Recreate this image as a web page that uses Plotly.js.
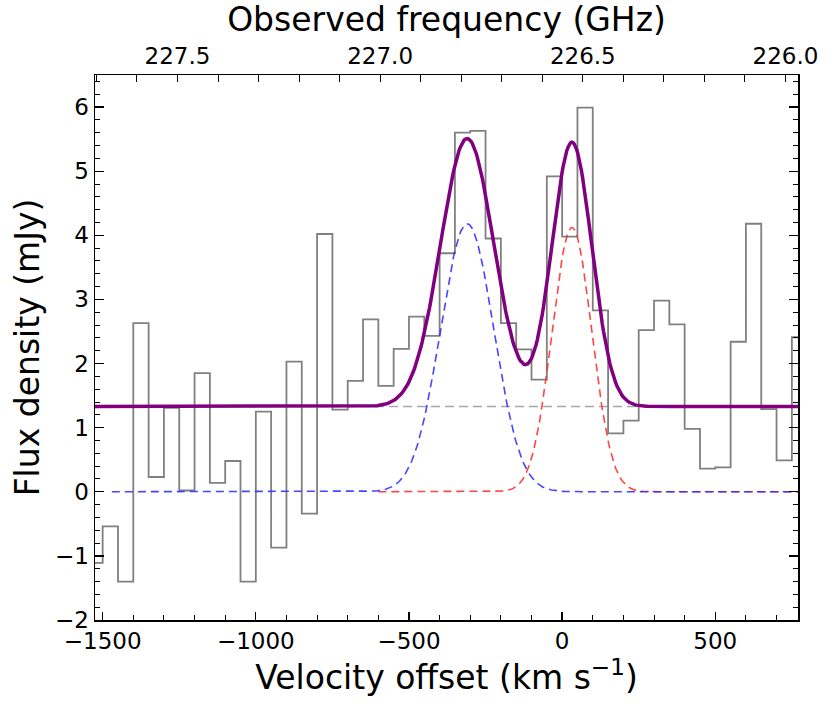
<!DOCTYPE html>
<html>
<head>
<meta charset="utf-8">
<script src="https://cdn.plot.ly/plotly-3.0.1.min.js"></script>
<style>html,body{margin:0;padding:0;background:#fff;}#chart{width:831px;height:707px;}</style>
</head>
<body>
<div id="chart"></div>
<script>
// Channel centres (km/s) and measured flux density (mJy)
const velocity = [-1525,-1475,-1425,-1375,-1325,-1275,-1225,-1175,-1125,-1075,-1025,-975,-925,-875,-825,-775,-725,-675,-625,-575,-525,-475,-425,-375,-325,-275,-225,-175,-125,-75,-25,25,75,125,175,225,275,325,375,425,475,525,575,625,675,725,775];
const flux = [-1.11,-0.54,-1.40,2.63,0.23,1.31,0.02,1.85,0.14,0.48,-1.40,1.25,-0.87,2.03,-0.34,4.02,1.28,1.73,2.69,1.65,2.23,2.73,2.43,3.72,5.60,5.63,3.95,2.63,2.22,1.75,4.92,3.98,5.99,2.83,0.91,1.11,2.52,2.98,2.61,0.98,0.36,0.38,2.34,4.18,1.29,0.49,2.41];

// Fit parameters: continuum + two Gaussian components
const continuumLevel = 1.33;
const compCentre = [-310, 32];      // km/s (blue, red)
const compAmplitude = [4.18, 4.12]; // mJy
const compSigma = [87, 65];         // km/s
const compStart = [-1470, -600];    // km/s where each component curve starts

// Axis ranges and ticks
const velRange = [-1525, 770];
const fluxRange = [-2, 6.5];
const velTicks = [-1500, -1000, -500, 0, 500];
const restFreq = 226.551; // GHz, frequency at zero velocity
const freqTicks = [227.5, 227.0, 226.5, 226.0];
const freqTickText = ['227.5', '227.0', '226.5', '226.0'];

const C = 299792.458;
const toFreq = v => restFreq * (1 - v / C);

function grid(start, end, step) { const a = []; for (let v = start; v <= end + 1e-9; v += step) a.push(v); return a; }
function comp(i, v) { return compAmplitude[i] * Math.exp(-Math.pow(v - compCentre[i], 2) / (2 * compSigma[i] * compSigma[i])); }

const gFull = grid(velRange[0], 775, 4);
const gBlue = grid(compStart[0], 775, 4);
const gRed = grid(compStart[1], 775, 4);

const traces = [
  { x: [velRange[0], 775], y: [continuumLevel, continuumLevel], mode: 'lines',
    line: { color: '#a6a6a6', width: 1.6, dash: '9px,5px' }, hoverinfo: 'skip' },
  { x: velocity, y: flux, mode: 'lines', line: { shape: 'hvh', color: '#808080', width: 1.8 }, hoverinfo: 'skip' },
  { x: gRed, y: gRed.map(v => comp(1, v)), mode: 'lines',
    line: { color: 'rgba(255,50,50,0.9)', width: 1.6, dash: '8px,5px' }, hoverinfo: 'skip' },
  { x: gBlue, y: gBlue.map(v => comp(0, v)), mode: 'lines',
    line: { color: 'rgba(50,50,255,0.9)', width: 1.6, dash: '8px,5px' }, hoverinfo: 'skip' },
  { x: gFull, y: gFull.map(v => continuumLevel + comp(0, v) + comp(1, v)), mode: 'lines',
    line: { color: '#800080', width: 3.5 }, hoverinfo: 'skip' },
  { x: [toFreq(velRange[0]), toFreq(velRange[1])], y: [continuumLevel, continuumLevel], xaxis: 'x2', yaxis: 'y',
    mode: 'lines', line: { color: 'rgba(0,0,0,0)', width: 0 }, hoverinfo: 'skip' }
];

const tickFont = { family: 'DejaVu Sans', size: 23, color: '#000' };
const titleFont = { family: 'DejaVu Sans', size: 33, color: '#000' };

const layout = {
  width: 831, height: 707,
  margin: { l: 95, r: 33, t: 75, b: 87 },
  paper_bgcolor: '#fff', plot_bgcolor: '#fff',
  showlegend: false,
  font: { family: 'DejaVu Sans', size: 23, color: '#000' },
  xaxis: {
    range: velRange, showgrid: false, zeroline: false,
    showline: true, linecolor: '#000', linewidth: 1.5, mirror: false,
    tickvals: velTicks, ticks: 'inside', ticklen: 8, tickwidth: 1.3, tickcolor: '#000',
    minor: { dtick: 100, tick0: 0, ticks: 'inside', ticklen: 5, tickwidth: 1, tickcolor: '#000' },
    tickfont: tickFont,
    title: { text: 'Velocity offset (km s<sup>−1</sup>)', font: titleFont, standoff: 10 }
  },
  xaxis2: {
    overlaying: 'x', side: 'top', anchor: 'y',
    range: [toFreq(velRange[0]), toFreq(velRange[1])], showgrid: false, zeroline: false,
    showline: true, linecolor: '#000', linewidth: 1.5,
    tickvals: freqTicks, ticktext: freqTickText, ticks: 'inside', ticklen: 7, tickwidth: 1, tickcolor: '#000',
    minor: { dtick: 0.1, tick0: 226, ticks: 'inside', ticklen: 7, tickwidth: 1, tickcolor: '#000' },
    tickfont: tickFont,
    title: { text: 'Observed frequency (GHz)', font: titleFont, standoff: 6 }
  },
  yaxis: {
    range: fluxRange, showgrid: false, zeroline: false,
    showline: true, linecolor: '#000', linewidth: 1.5, mirror: 'ticks',
    dtick: 1, tick0: 0, ticks: 'inside', ticklen: 9, tickwidth: 1.3, tickcolor: '#000',
    minor: { dtick: 0.2, tick0: 0, ticks: 'inside', ticklen: 5, tickwidth: 1, tickcolor: '#000' },
    tickfont: tickFont,
    title: { text: 'Flux density (mJy)', font: titleFont, standoff: 5 }
  }
};

Plotly.newPlot('chart', traces, layout, { staticPlot: true });
</script>
</body>
</html>
